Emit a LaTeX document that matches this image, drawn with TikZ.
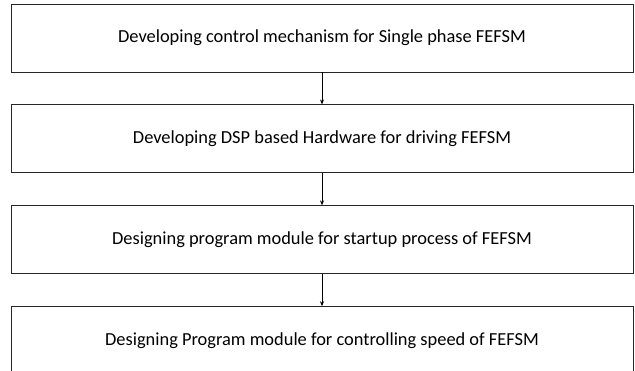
\documentclass[tikz,border=0pt]{standalone}
\usepackage{fontspec}
\setmainfont{Carlito}
\usetikzlibrary{positioning,arrows.meta}

\begin{document}
\begin{tikzpicture}[
  >={Stealth[length=5pt,width=4pt]},
  font=\fontsize{18.4}{22}\selectfont,
  stepbox/.style={draw=black!85,line width=0.9pt,minimum width=622pt,minimum height=68pt,inner sep=0pt},
  flow/.style={->,line width=0.8pt},
  node distance=32pt
]
  \useasboundingbox (0,0) rectangle (635pt,-371pt);

  % Work steps, top to bottom.
  \node[stepbox] (mech) at (322pt,-38pt)
    {Developing control mechanism for Single phase FEFSM};
  \node[stepbox,below=of mech] (hw)
    {Developing DSP based Hardware for driving FEFSM};
  \node[stepbox,below=of hw] (startup)
    {Designing program module for startup process of FEFSM};
  \node[stepbox,below=of startup] (speed)
    {Designing Program module for controlling speed of FEFSM};

  \draw[flow] (mech) -- (hw);
  \draw[flow] (hw) -- (startup);
  \draw[flow] (startup) -- (speed);
\end{tikzpicture}
\end{document}
